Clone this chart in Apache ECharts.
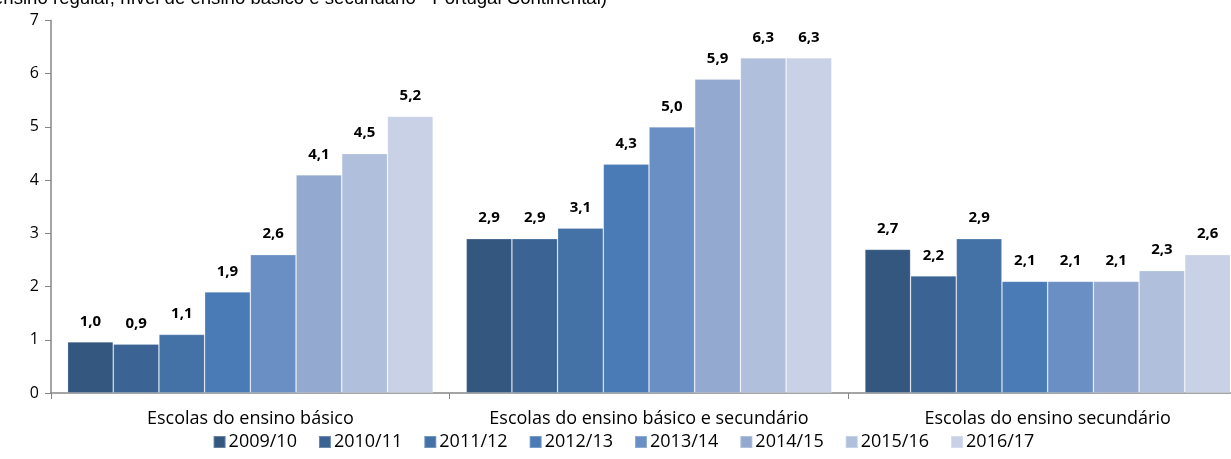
<!DOCTYPE html>
<html>
<head>
<meta charset="utf-8">
<script src="https://cdn.jsdelivr.net/npm/echarts@6/dist/echarts.min.js"></script>
<style>
  html, body { margin: 0; padding: 0; background: #fff; overflow: hidden; }
  /* o gráfico original está cortado à direita: o contentor é mais largo que a janela */
  #chart { width: 1247px; height: 459px; }
</style>
</head>
<body>
<div id="chart"></div>
<script>
// categorias e anos letivos
const categories = ['Escolas do ensino básico', 'Escolas do ensino básico e secundário', 'Escolas do ensino secundário'];
const years = ['2009/10', '2010/11', '2011/12', '2012/13', '2013/14', '2014/15', '2015/16', '2016/17'];
// um array por ano: [básico, básico e secundário, secundário]
const v0910 = [0.96, 2.9, 2.7];
const v1011 = [0.92, 2.9, 2.2];
const v1112 = [1.1, 3.1, 2.9];
const v1213 = [1.9, 4.3, 2.1];
const v1314 = [2.6, 5.0, 2.1];
const v1415 = [4.1, 5.9, 2.1];
const v1516 = [4.5, 6.3, 2.3];
const v1617 = [5.2, 6.3, 2.6];
const yTicks = [0, 1, 2, 3, 4, 5, 6, 7];
const colors = ['#34577f', '#3b6495', '#4472a6', '#4a7bb6', '#6a8fc4', '#93a9d0', '#b0c0dc', '#c8d1e5'];

const seriesValues = [v0910, v1011, v1112, v1213, v1314, v1415, v1516, v1617];
const font = 'Open Sans';

const chart = echarts.init(document.getElementById('chart'));
const option = {
    animation: false,
    color: colors,
    graphic: [{
        type: 'text',
        left: -7,
        top: -11,
        style: {
            text: 'ensino regular, nível de ensino básico e secundário - Portugal Continental)',
            font: '18.6px "Liberation Sans"',
            fill: '#000'
        }
    }],
    grid: {
        left: 51,
        right: 0,
        top: 20.5,
        bottom: 66,
        containLabel: false
    },
    legend: {
        data: years,
        bottom: 3,
        left: 'center',
        itemWidth: 12,
        itemHeight: 12,
        itemGap: 21,
        icon: 'rect',
        textStyle: { fontFamily: font, fontSize: 18, color: '#000', padding: [0, 0, 0, -2] }
    },
    xAxis: {
        type: 'category',
        data: categories,
        axisLine: { lineStyle: { color: '#868686', width: 1.5 } },
        axisTick: { show: true, interval: 0, length: 6, lineStyle: { color: '#868686' } },
        axisLabel: { interval: 0, hideOverlap: false, fontFamily: font, fontSize: 18, color: '#000', margin: 17 }
    },
    yAxis: {
        type: 'value',
        min: yTicks[0],
        max: yTicks[yTicks.length - 1],
        interval: 1,
        splitLine: { show: false },
        axisLine: { show: true, lineStyle: { color: '#868686', width: 1.5 } },
        axisTick: { show: true, length: 6, lineStyle: { color: '#868686' } },
        axisLabel: { fontFamily: font, fontSize: 16, color: '#000', margin: 12 }
    },
    series: years.map((y, i) => ({
        name: y,
        type: 'bar',
        data: seriesValues[i],
        barGap: '0%',
        barCategoryGap: '8.3%',
        itemStyle: { borderColor: 'rgba(255,255,255,0.25)', borderWidth: 0.8 },
        label: {
            show: true,
            position: 'top',
            distance: 13,
            fontFamily: font,
            fontWeight: 'bold',
            fontSize: 15,
            color: '#000',
            formatter: p => p.value.toFixed(1).replace('.', ',')
        }
    }))
};
chart.setOption(option);
</script>
</body>
</html>
